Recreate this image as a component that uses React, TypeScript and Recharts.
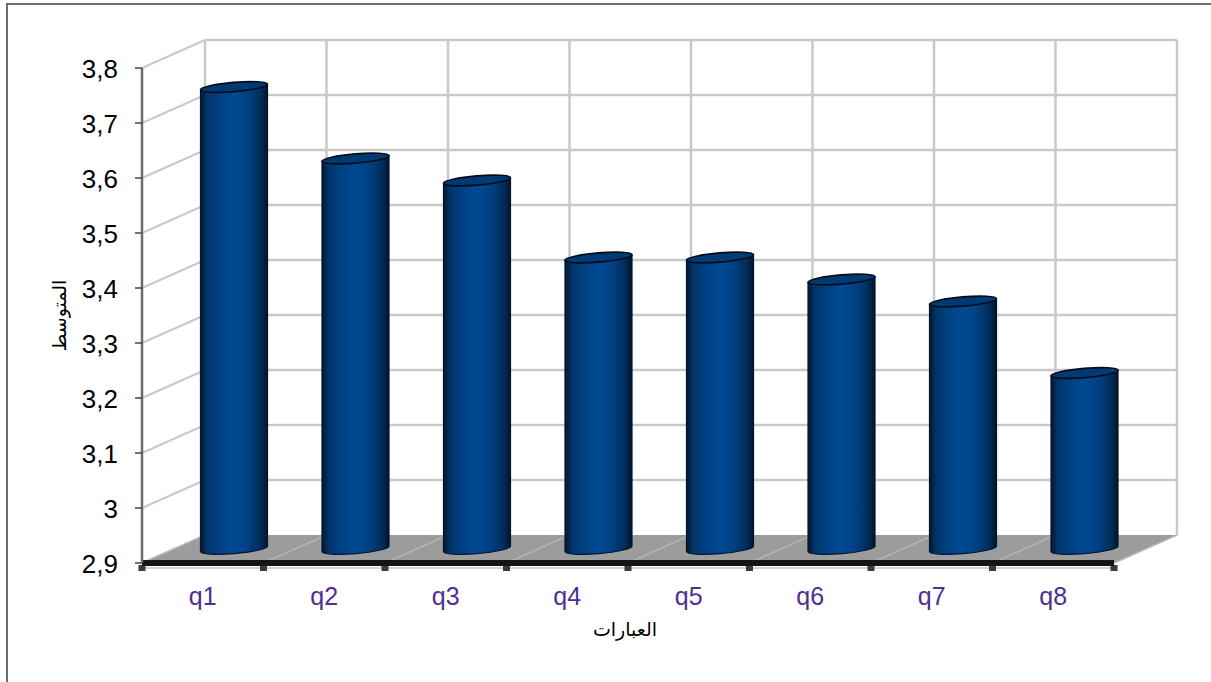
import { Bar, BarChart, Label, XAxis, YAxis, usePlotArea } from "recharts";

const categories = ["q1", "q2", "q3", "q4", "q5", "q6", "q7", "q8"];
const means = [3.74, 3.61, 3.57, 3.43, 3.43, 3.39, 3.35, 3.22];
const yTicks = [2.9, 3, 3.1, 3.2, 3.3, 3.4, 3.5, 3.6, 3.7, 3.8];

const rows = categories.map((name, i) => ({ name, mean: means[i] }));

const DEPTH_X = 63;
const DEPTH_Y = 28;
const GRID = "#c9c9c9";

const formatTick = (v: number) => String(v).replace(".", ",");

/** Back wall, side wall, floor and the tick marks of the pseudo-3D box. */
function Box() {
  const plot = usePlotArea();
  if (!plot) return null;
  const { x, y, width, height } = plot;
  const bottom = y + height;
  const right = x + width;
  const stepY = height / (yTicks.length - 1);
  const stepX = width / categories.length;
  const levels = yTicks.map((_, i) => bottom - i * stepY);
  const columns = Array.from({ length: categories.length + 1 }, (_, i) => x + i * stepX);

  return (
    <g>
      <polygon
        points={`${x},${bottom} ${x + DEPTH_X},${bottom - DEPTH_Y} ${right + DEPTH_X},${bottom - DEPTH_Y} ${right},${bottom}`}
        fill="#9c9c9c"
      />
      {columns.map((cx) => (
        <line
          key={`floor-${cx}`}
          x1={cx}
          y1={bottom}
          x2={cx + DEPTH_X}
          y2={bottom - DEPTH_Y}
          stroke="#b4b4b4"
          strokeWidth={1.5}
        />
      ))}
      {columns.map((cx) => (
        <line
          key={`col-${cx}`}
          x1={cx + DEPTH_X}
          y1={y - DEPTH_Y}
          x2={cx + DEPTH_X}
          y2={bottom - DEPTH_Y}
          stroke={GRID}
          strokeWidth={2.5}
        />
      ))}
      {levels.map((ly, i) => (
        <g key={`level-${ly}`}>
          {i > 0 && (
            <line x1={x} y1={ly} x2={x + DEPTH_X} y2={ly - DEPTH_Y} stroke={GRID} strokeWidth={2} />
          )}
          {i > 0 && (
            <line
              x1={x + DEPTH_X}
              y1={ly - DEPTH_Y}
              x2={right + DEPTH_X}
              y2={ly - DEPTH_Y}
              stroke={GRID}
              strokeWidth={2.5}
            />
          )}
        </g>
      ))}
      <line x1={x} y1={bottom + 5} x2={right + 2} y2={bottom + 5} stroke="#c4c4c4" strokeWidth={1.5} />
      {columns.map((cx) => (
        <rect key={`tick-${cx}`} x={cx - 3.5} y={bottom + 2} width={7} height={6} fill="#3a3a3a" />
      ))}
    </g>
  );
}

type ShapeProps = { x?: number; y?: number; width?: number; height?: number };

/** Tilted cylinder standing halfway into the box. */
function Cylinder({ x = 0, y = 0, width = 0, height = 0 }: ShapeProps) {
  const left = x + DEPTH_X / 2;
  const rightEdge = left + width;
  const top = y - DEPTH_Y / 2;
  const base = top + height;
  const rx = width / 2;
  const ry = 4.6;
  const tilt = 2.8;
  const body =
    `M${left} ${top + tilt}L${left} ${base + tilt}` +
    `A${rx} ${ry} -4.8 0 0 ${rightEdge} ${base - tilt}L${rightEdge} ${top - tilt}Z`;
  const lid =
    `M${left} ${top + tilt}A${rx} ${ry} -4.8 0 1 ${rightEdge} ${top - tilt}` +
    `A${rx} ${ry} -4.8 0 1 ${left} ${top + tilt}Z`;
  return (
    <g>
      <path d={body} fill="url(#cylinderSide)" stroke="#04152b" strokeWidth={1.2} />
      <path d={lid} fill="#003a75" stroke="#010c18" strokeWidth={1.6} />
    </g>
  );
}

export default function App() {
  return (
    <div
      style={{
        position: "absolute",
        left: 0,
        top: 0,
        width: 1211,
        height: 682,
        overflow: "hidden",
        background: "#fff",
      }}
    >
      <div
        style={{
          position: "absolute",
          left: 6,
          top: 3,
          width: 1300,
          height: 800,
          borderLeft: "2px solid #6e6e6e",
          borderTop: "2px solid #6e6e6e",
        }}
      />
      <BarChart
        width={1211}
        height={682}
        data={rows}
        margin={{ top: 68, right: 97, bottom: 0, left: 0 }}
        barSize={67}
        style={{ position: "absolute", left: 0, top: 0 }}
      >
        <defs>
          <linearGradient id="cylinderSide" x1="0" y1="0" x2="1" y2="0">
            <stop offset="0" stopColor="#04182f" />
            <stop offset="0.1" stopColor="#023468" />
            <stop offset="0.25" stopColor="#003f80" />
            <stop offset="0.5" stopColor="#004a94" />
            <stop offset="0.72" stopColor="#003f80" />
            <stop offset="0.9" stopColor="#012c5a" />
            <stop offset="1" stopColor="#03152b" />
          </linearGradient>
        </defs>
        <Box />
        <XAxis
          dataKey="name"
          height={119}
          tickLine={false}
          tickMargin={18}
          axisLine={{ stroke: "#141414", strokeWidth: 6 }}
          tick={{ fill: "#4f2f92", fontSize: 25, fontFamily: "Liberation Sans" }}
        >
          <Label
            value="العبارات"
            position="insideTop"
            offset={60}
            dx={-3}
            style={{ fill: "#000", fontSize: 19, fontFamily: "DejaVu Sans" }}
          />
        </XAxis>
        <YAxis
          width={142}
          domain={[2.9, 3.8]}
          ticks={yTicks}
          interval={0}
          allowDataOverflow
          tickFormatter={formatTick}
          tickSize={7}
          tickMargin={17}
          axisLine={{ stroke: "#6b6b6b", strokeWidth: 2.5 }}
          tickLine={{ stroke: "#444", strokeWidth: 1.5 }}
          tick={{ fill: "#000", fontSize: 26, fontFamily: "Liberation Sans", dy: 1 }}
        >
          <Label
            value="المتوسط"
            angle={-90}
            position="insideLeft"
            offset={59}
            style={{ fill: "#000", fontSize: 19, fontFamily: "DejaVu Sans", textAnchor: "middle" }}
          />
        </YAxis>
        <Bar dataKey="mean" shape={<Cylinder />} isAnimationActive={false} />
      </BarChart>
    </div>
  );
}
